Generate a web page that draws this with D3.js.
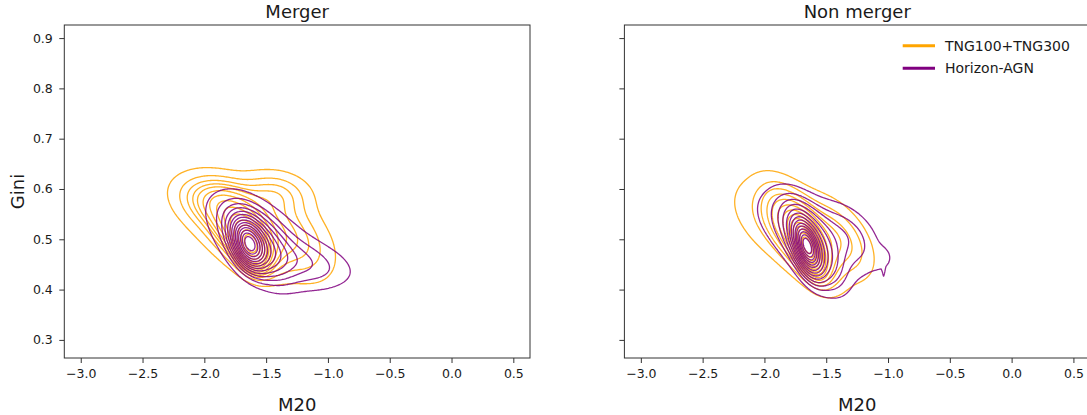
<!DOCTYPE html>
<html>
<head>
<meta charset="utf-8">
<script src="https://cdn.jsdelivr.net/npm/d3@7"></script>
<style>
  body { margin: 0; background: #fff; }
  text { font-family: "DejaVu Sans", sans-serif; fill: #1a1a1a; }
</style>
</head>
<body>
<div id="wrapper"></div>
<script>
const panelTitles = ["Merger", "Non merger"];
const seriesNames = ["TNG100+TNG300", "Horizon-AGN"];
const seriesColors = ["orange", "purple"];
const xTicks = [-3.0, -2.5, -2.0, -1.5, -1.0, -0.5, 0.0, 0.5];
const yTicks = [0.3, 0.4, 0.5, 0.6, 0.7, 0.8, 0.9];
const xDomain = [-3.133, 0.635];
const yDomain = [0.264, 0.926];

// density read off the picture as gaussian pieces:
// [weight, M20, Gini, sd M20, sd Gini, corr]
const mergerTNG = [
  [0.22, -1.62, 0.487, 0.075, 0.026, -0.3],
  [0.25, -1.68, 0.512, 0.150, 0.042, -0.5],
  [0.22, -1.70, 0.530, 0.270, 0.052, -0.45],
  [0.11, -1.90, 0.575, 0.200, 0.032, -0.3],
  [0.14, -1.28, 0.505, 0.210, 0.055, -0.45],
  [0.06, -1.42, 0.592, 0.180, 0.028, -0.1]
];
const mergerHAGN = [
  [0.32, -1.64, 0.490, 0.075, 0.027, -0.35],
  [0.36, -1.58, 0.492, 0.140, 0.040, -0.5],
  [0.22, -1.52, 0.500, 0.260, 0.052, -0.6],
  [0.10, -1.20, 0.455, 0.250, 0.030, -0.4]
];
const nonMergerTNG = [
  [0.33, -1.65, 0.485, 0.070, 0.030, -0.55],
  [0.33, -1.70, 0.505, 0.150, 0.050, -0.65],
  [0.26, -1.75, 0.525, 0.280, 0.055, -0.5],
  [0.08, -1.38, 0.500, 0.150, 0.045, -0.5]
];
const nonMergerHAGN = [
  [0.40, -1.655, 0.485, 0.065, 0.030, -0.5],
  [0.33, -1.62, 0.490, 0.130, 0.045, -0.6],
  [0.20, -1.62, 0.512, 0.270, 0.052, -0.55],
  [0.06, -1.32, 0.510, 0.160, 0.040, -0.4],
  [0.004, -1.04, 0.463, 0.060, 0.016, 0.0],
  [0.0003, -1.035, 0.435, 0.008, 0.012, 0.0]
];
const panelSeries = [[mergerTNG, mergerHAGN], [nonMergerTNG, nonMergerHAGN]];

const levelCount = 15;   // seaborn style iso-proportion levels
const thresh = 0.05;

const width = 1087, height = 415;
const margin = { top: 25, bottom: 57 };
const panelLeft = [64.3, 624.4];
const panelWidth = 465.7;
const boundedHeight = height - margin.top - margin.bottom;

const svg = d3.select("#wrapper").append("svg")
  .attr("width", width)
  .attr("height", height);

svg.append("rect").attr("width", width).attr("height", height).attr("fill", "#fff");

const x = d3.scaleLinear().domain(xDomain).range([0, panelWidth]);
const y = d3.scaleLinear().domain(yDomain).range([boundedHeight, 0]);

// grid for the density
const nx = 380, ny = 265;
const dx = (xDomain[1] - xDomain[0]) / nx;
const dy = (yDomain[1] - yDomain[0]) / ny;

function density(comps, mx, my) {
  let s = 0;
  for (const [w, cx, cy, sx, sy, r] of comps) {
    const u = (mx - cx) / sx, v = (my - cy) / sy;
    const q = (u * u - 2 * r * u * v + v * v) / (1 - r * r);
    s += w / (2 * Math.PI * sx * sy * Math.sqrt(1 - r * r)) * Math.exp(-q / 2);
  }
  return s;
}

function isoLevels(values) {
  const sorted = Array.from(values).sort((a, b) => b - a);
  const total = d3.sum(sorted);
  const cum = [];
  let acc = 0;
  for (const v of sorted) { acc += v; cum.push(acc / total); }
  const props = d3.range(levelCount).map(i => thresh + i * (1 - thresh) / (levelCount - 1));
  return props.filter(p => p < 1).map(p => {
    const idx = d3.bisectLeft(cum, 1 - p);
    return sorted[Math.min(idx, sorted.length - 1)];
  });
}

const proj = d3.geoTransform({
  point: function (px, py) {
    this.stream.point(x(xDomain[0] + px * dx), y(yDomain[0] + py * dy));
  }
});
const contourPath = d3.geoPath(proj);

panelTitles.forEach((title, p) => {
  const bounds = svg.append("g")
    .attr("transform", `translate(${panelLeft[p]},${margin.top})`);

  const clipId = "clip" + p;
  svg.append("defs").append("clipPath").attr("id", clipId)
    .append("rect").attr("width", panelWidth).attr("height", boundedHeight);

  const plot = bounds.append("g").attr("clip-path", `url(#${clipId})`);

  panelSeries[p].forEach((comps, s) => {
    const values = new Float64Array(nx * ny);
    for (let j = 0; j < ny; j++) {
      const my = yDomain[0] + (j + 0.5) * dy;
      for (let i = 0; i < nx; i++) {
        values[j * nx + i] = density(comps, xDomain[0] + (i + 0.5) * dx, my);
      }
    }
    const levels = isoLevels(values);
    const contours = d3.contours().size([nx, ny]).thresholds(levels)(values);
    plot.append("g")
      .selectAll("path")
      .data(contours)
      .join("path")
      .attr("d", contourPath)
      .attr("fill", "none")
      .attr("stroke", seriesColors[s])
      .attr("stroke-opacity", 0.85)
      .attr("stroke-width", 1.3)
      .attr("stroke-linejoin", "round");
  });

  // axes
  const xAxis = d3.axisBottom(x).tickValues(xTicks).tickSize(5).tickPadding(3.5)
    .tickFormat(d => d3.format(".1f")(d).replace("-", "\u2212"));
  const gx = bounds.append("g")
    .attr("transform", `translate(0,${boundedHeight})`)
    .call(xAxis);
  gx.select(".domain").remove();
  gx.selectAll("text").attr("font-size", 12.5).attr("font-family", "DejaVu Sans")
    .attr("y", 19.5).attr("dy", 0);

  const yAxis = d3.axisLeft(y).tickValues(yTicks).tickSize(5).tickPadding(6.5)
    .tickFormat(p === 0 ? d3.format(".1f") : () => "");
  const gy = bounds.append("g").call(yAxis);
  gy.select(".domain").remove();
  gy.selectAll("text").attr("font-size", 12.5).attr("font-family", "DejaVu Sans");
  bounds.selectAll(".tick line").attr("stroke", "#333");

  bounds.append("rect")
    .attr("width", panelWidth)
    .attr("height", boundedHeight)
    .attr("fill", "none")
    .attr("stroke", "#333")
    .attr("stroke-width", 1);

  bounds.append("text")
    .attr("x", panelWidth / 2)
    .attr("y", -7)
    .attr("text-anchor", "middle")
    .attr("font-size", 18)
    .text(title);

  bounds.append("text")
    .attr("x", panelWidth / 2)
    .attr("y", boundedHeight + 53)
    .attr("text-anchor", "middle")
    .attr("font-size", 18)
    .text("M20");

  if (p === 0) {
    bounds.append("text")
      .attr("transform", `translate(-40,${boundedHeight / 2}) rotate(-90)`)
      .attr("text-anchor", "middle")
      .attr("font-size", 18)
      .text("Gini");
  }

  if (p === 1) {
    const legend = bounds.append("g").attr("transform", "translate(278.3,20.7)");
    seriesNames.forEach((name, s) => {
      const row = legend.append("g").attr("transform", `translate(0,${s * 22.6})`);
      row.append("line")
        .attr("x1", 0).attr("x2", 32.3)
        .attr("stroke", seriesColors[s])
        .attr("stroke-width", 3);
      row.append("text")
        .attr("x", 42.3)
        .attr("dy", "0.36em")
        .attr("font-size", 14)
        .text(name);
    });
  }
});
</script>
</body>
</html>
